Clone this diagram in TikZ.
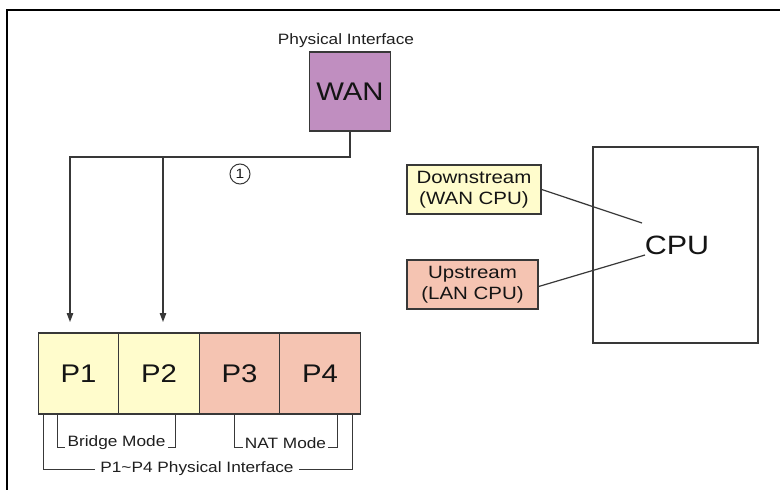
\documentclass[tikz,border=0pt]{standalone}
\usepackage{fontspec}
\setmainfont{Liberation Sans}[FakeStretch=1.15]
\usetikzlibrary{arrows.meta}
\definecolor{wanfill}{HTML}{C08EC0}
\definecolor{yel}{HTML}{FFFCCC}
\definecolor{sal}{HTML}{F5C4B2}
\definecolor{edge}{HTML}{383838}
\tikzset{
  box/.style={draw=edge, line width=1.4pt, inner sep=0pt, text=black!92},
  pbox/.style={box, minimum width=80.5pt, minimum height=81pt, font=\fontsize{25.5}{30}\selectfont},
  lbl/.style={inner sep=2pt, text=black!88, font=\fontsize{15}{18}\selectfont},
  conn/.style={draw=edge, line width=1.2pt},
  arr/.style={conn, -{Triangle[length=9pt,width=6.5pt]}},
}
\begin{document}
\begin{tikzpicture}[x=1pt,y=-1pt]
\useasboundingbox (0,0) rectangle (780,490);
\fill[white] (0,0) rectangle (780,490);
% frame
\draw[line width=2pt, black] (7,491) -- (7,10) -- (781,10);

% WAN
\node[lbl] (physlbl) at (346,41) {Physical Interface};
\node[box, fill=wanfill, minimum width=81pt, minimum height=79pt, font=\fontsize{25.5}{30}\selectfont] (wan) at (350,91.5) {WAN};

% ports
\node[pbox, fill=yel] (p1) at (78.5,373.5) {P1};
\node[pbox, fill=yel] (p2) at (159,373.5) {P2};
\node[pbox, fill=sal] (p3) at (239.5,373.5) {P3};
\node[pbox, fill=sal] (p4) at (320,373.5) {P4};

% connectors from WAN
\coordinate (bend) at (350,157);
\coordinate (a1) at (70,322);
\coordinate (j2) at (163,157);
\coordinate (a2) at (163,322);
\draw[arr] (wan.south) -- (bend) -| (a1);
\draw[arr] (j2) -- (a2);
\node[circle, draw=edge, line width=1pt, minimum size=20pt, inner sep=0pt, text=black!90, font=\fontsize{13.5}{15}\selectfont] (one) at (240,174) {1};

% brackets
\node[lbl] (bridge) at (116.5,443) {Bridge Mode};
\node[lbl] (nat) at (285.5,443) {NAT Mode};
\node[lbl] (allp) at (197,469) {P1\textasciitilde P4 Physical Interface};
\coordinate (b1) at (57,414.7);
\coordinate (b2) at (175,414.7);
\coordinate (n1) at (234,414.7);
\coordinate (n2) at (337,414.7);
\coordinate (f1) at (43,414.7);
\coordinate (f2) at (352,414.7);
\draw[conn, line width=1pt] (b1) |- ([yshift=-4.5pt]bridge.west);
\draw[conn, line width=1pt] (b2) |- ([yshift=-4.5pt]bridge.east);
\draw[conn, line width=1pt] (n1) |- ([yshift=-4.5pt]nat.west);
\draw[conn, line width=1pt] (n2) |- ([yshift=-4.5pt]nat.east);
\draw[conn, line width=1pt] (f1) |- ([xshift=-3pt]allp.west);
\draw[conn, line width=1pt] (f2) |- ([xshift=3pt]allp.east);

% CPU side
\node[box, minimum width=165pt, minimum height=196pt] (cpubox) at (675.5,245) {};
\node[inner sep=0pt, text=black!92, font=\fontsize{26.5}{30}\selectfont] (cpu) at (677,245) {CPU};
\node[box, fill=yel, minimum width=134pt, minimum height=49pt, align=center, font=\fontsize{17.8}{21}\selectfont] (down) at (474,189.5) {Downstream\\(WAN CPU)};
\node[box, fill=sal, minimum width=131pt, minimum height=49pt, align=center, font=\fontsize{17.8}{21}\selectfont] (up) at (472.5,284.5) {Upstream\\(LAN CPU)};
\coordinate (d1) at (642,223);
\coordinate (u1) at (645,255);
\draw[conn] (down.east) -- (d1);
\draw[conn] ([yshift=-2pt]up.east) -- (u1);
\end{tikzpicture}
\end{document}
